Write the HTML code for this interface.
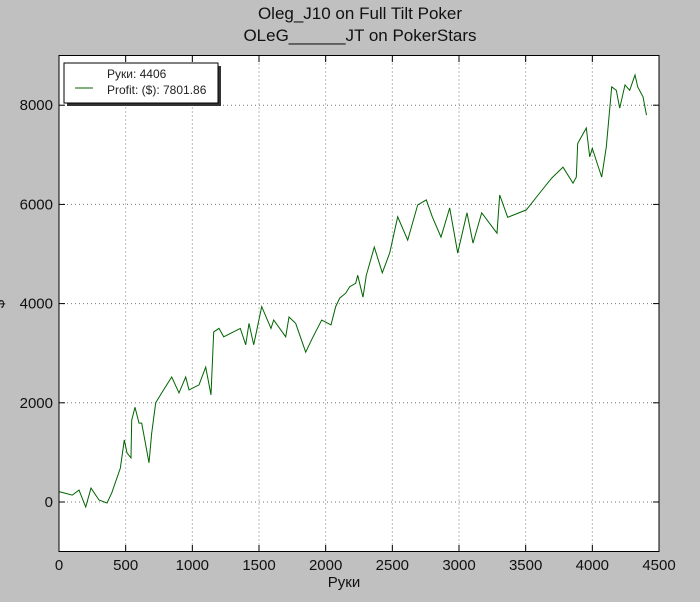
<!DOCTYPE html>
<html><head><meta charset="utf-8"><style>
body{margin:0;background:#c0c0c0;}
svg{display:block;font-family:"Liberation Sans",sans-serif;}
</style></head><body>
<svg width="700" height="602" viewBox="0 0 700 602">
<rect x="0" y="0" width="700" height="602" fill="#c0c0c0"/>
<text x="360" y="19" font-size="17" text-anchor="middle" fill="#111">Oleg_J10 on Full Tilt Poker</text>
<text x="360" y="41" font-size="17" text-anchor="middle" fill="#111">OLeG______JT on PokerStars</text>
<rect x="59" y="55.5" width="600" height="496" fill="#fff"/>
<g id="grid"></g>
<g id="ticks"></g>
<path id="line" fill="none" stroke="#006400" stroke-width="1"/>
<rect x="59" y="55.5" width="600" height="496" fill="none" stroke="#000" stroke-width="1"/>
<text x="344" y="587" font-size="15" text-anchor="middle" fill="#111">Руки</text>
<text transform="translate(4,304) rotate(-90)" font-size="15" text-anchor="middle" fill="#111">$</text>
<g>
<rect x="67" y="66" width="154" height="40" fill="#333"/>
<rect x="64" y="63" width="154" height="40" fill="#fff" stroke="#000" stroke-width="1"/>
<line x1="75" y1="88" x2="93" y2="88" stroke="#006400"/>
<text x="107" y="78" font-size="12" fill="#222">Руки: 4406</text>
<text x="107" y="94" font-size="12" fill="#222">Profit: ($): 7801.86</text>
</g>
</svg>
<script>
const xTicks=[0,500,1000,1500,2000,2500,3000,3500,4000,4500];
const yTicks=[0,2000,4000,6000,8000];
const hands=[0,100,150,200,240,300,360,395,460,490,510,540,545,570,600,620,675,695,725,770,845,900,950,975,1050,1100,1140,1160,1200,1235,1360,1400,1425,1460,1520,1590,1610,1700,1725,1775,1850,1900,1970,2040,2075,2105,2150,2180,2225,2240,2280,2305,2365,2425,2480,2540,2615,2690,2755,2800,2865,2930,2990,3060,3105,3170,3285,3305,3365,3505,3605,3695,3780,3855,3880,3890,3955,3980,4000,4070,4105,4145,4180,4205,4245,4280,4320,4340,4380,4406];
const profit=[210,140,240,-100,280,40,-20,180,680,1250,990,890,1650,1910,1590,1590,790,1390,2000,2200,2520,2200,2520,2260,2360,2720,2160,3430,3500,3330,3500,3170,3600,3170,3940,3500,3670,3330,3730,3600,3020,3300,3670,3570,3940,4110,4210,4340,4410,4570,4130,4570,5140,4620,5020,5750,5280,5990,6090,5750,5340,5930,5020,5830,5220,5830,5420,6190,5740,5890,6230,6530,6750,6430,6550,7230,7540,6960,7130,6550,7160,8370,8300,7940,8410,8300,8610,8370,8170,7800];
const X=v=>59+v*600/4500;
const Y=v=>502-v*0.0496;
const NS='http://www.w3.org/2000/svg';
const grid=document.getElementById('grid'),ticks=document.getElementById('ticks');
function mk(tag,attrs,parent){const e=document.createElementNS(NS,tag);for(const k in attrs)e.setAttribute(k,attrs[k]);parent.appendChild(e);return e;}
xTicks.forEach(t=>{
  const x=X(t);
  if(t>0&&t<4500){const g=mk('line',{x1:x,y1:55.5,x2:x,y2:551.5,stroke:'#777','stroke-dasharray':'1,3'},grid);
  
  }
  const a=mk('line',{x1:x,y1:551.5,x2:x,y2:545,stroke:'#000'},ticks);
  
  
  const b=mk('line',{x1:x,y1:55.5,x2:x,y2:62,stroke:'#000'},ticks);
  
  
  const l=mk('text',{x:x,y:570,'font-size':15,'text-anchor':'middle',fill:'#111'},ticks);
  l.textContent=t;
  
  
});
yTicks.forEach(t=>{
  const y=Y(t);
  const g=mk('line',{x1:59,y1:y,x2:659,y2:y,stroke:'#777','stroke-dasharray':'1,3'},grid);
  
  
  const a=mk('line',{x1:59,y1:y,x2:65,y2:y,stroke:'#000'},ticks);
  
  
  const b=mk('line',{x1:653,y1:y,x2:659,y2:y,stroke:'#000'},ticks);
  
  
  const l=mk('text',{x:53,y:y+5,'font-size':15,'text-anchor':'end',fill:'#111'},ticks);
  l.textContent=t;
  
  
});
document.getElementById('line').setAttribute('d',hands.map((h,i)=>(i?'L':'M')+X(h).toFixed(1)+','+Y(profit[i]).toFixed(1)).join(''));
</script>
</body></html>
